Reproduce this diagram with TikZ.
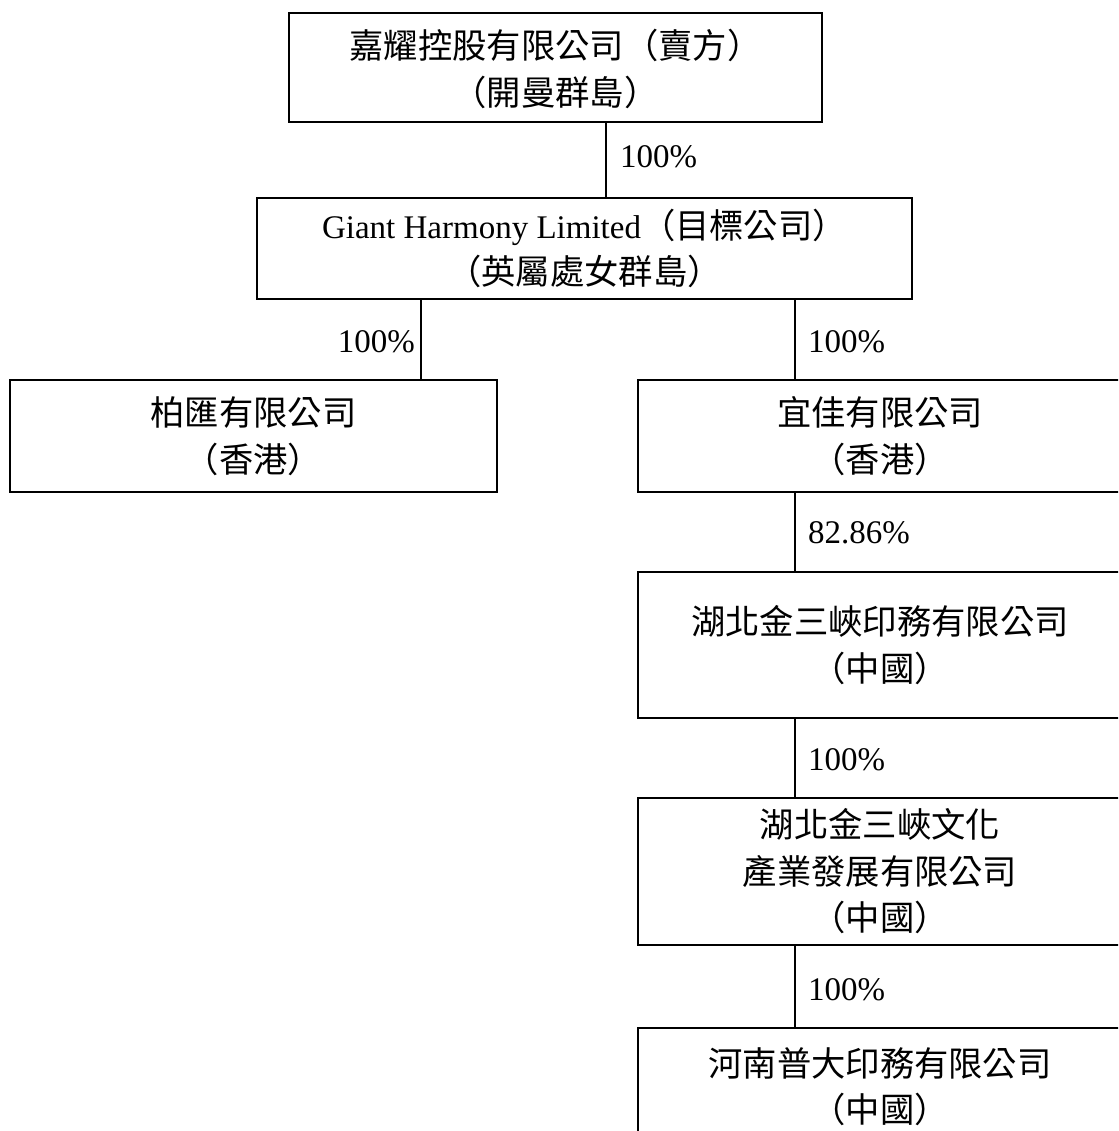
\documentclass[tikz,border=0pt]{standalone}
\usepackage{fontspec}
\setmainfont{Liberation Serif}
\newfontfamily\cjk[Scale=1.04]{Noto Sans CJK TC}
\begin{document}
\begin{tikzpicture}[x=1pt,y=-1pt,
  box/.style={draw, line width=1.4pt, rectangle, align=center, inner sep=0pt, font=\fontsize{33}{46.5}\selectfont},
  pct/.style={inner sep=0pt, font=\fontsize{33}{40}\selectfont},
  link/.style={line width=1.4pt}]
\useasboundingbox (0,0) rectangle (1118,1131);
\clip (0,0) rectangle (1118,1131);
\node[box, minimum width=533pt, minimum height=109pt, text depth=-4pt] (seller) at (555.5,67.5) {{\cjk 嘉耀控股有限公司（賣方）}\\{\cjk （開曼群島）}};
\node[box, minimum width=655pt, minimum height=101pt] (target) at (584.5,248.5) {Giant Harmony Limited{\cjk （目標公司）}\\{\cjk （英屬處女群島）}};
\node[box, minimum width=487pt, minimum height=112pt] (bh) at (253.5,436) {{\cjk 柏匯有限公司}\\{\cjk （香港）}};
\node[box, minimum width=484pt, minimum height=112pt] (yj) at (880,436) {{\cjk 宜佳有限公司}\\{\cjk （香港）}};
\node[box, minimum width=484pt, minimum height=146pt] (hb1) at (880,645) {{\cjk 湖北金三峽印務有限公司}\\{\cjk （中國）}};
\node[box, minimum width=484pt, minimum height=147pt] (hb2) at (880,871.5) {{\cjk 湖北金三峽文化}\\{\cjk 產業發展有限公司}\\{\cjk （中國）}};
\node[box, minimum width=484pt, minimum height=117pt] (hn) at (880,1086.5) {{\cjk 河南普大印務有限公司}\\{\cjk （中國）}};
\coordinate (c1) at (606,0);
\coordinate (c2) at (421,0);
\coordinate (c3) at (795,0);
\draw[link] (seller.south -| c1) -- (target.north -| c1);
\draw[link] (target.south -| c2) -- (bh.north -| c2);
\draw[link] (target.south -| c3) -- (yj.north -| c3);
\draw[link] (yj.south -| c3) -- (hb1.north -| c3);
\draw[link] (hb1.south -| c3) -- (hb2.north -| c3);
\draw[link] (hb2.south -| c3) -- (hn.north -| c3);
\node[pct, anchor=west] (p1) at (620,157) {100\%};
\node[pct, anchor=east] (p2) at (415,342) {100\%};
\node[pct, anchor=west] (p3) at (808,342) {100\%};
\node[pct, anchor=west] (p4) at (808,533) {82.86\%};
\node[pct, anchor=west] (p5) at (808,760) {100\%};
\node[pct, anchor=west] (p6) at (808,990) {100\%};
\end{tikzpicture}
\end{document}
